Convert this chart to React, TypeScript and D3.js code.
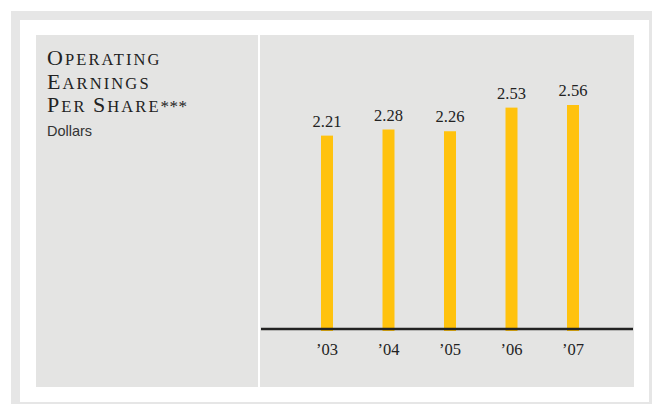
import * as d3 from "d3";

const years = ["’03", "’04", "’05", "’06", "’07"];
const values = [2.21, 2.28, 2.26, 2.53, 2.56];
const titleLines = ["Operating", "Earnings", "Per Share***"];
const unitLabel = "Dollars";

const W = 652;
const H = 404;
const serif = "'Liberation Serif', 'DejaVu Serif', serif";
const sans = "'Liberation Sans', Arial, sans-serif";

function SmallCaps({text, x, y}: {text: string, x: number, y: number}) {
    // first letter of each word large, the rest as reduced capitals
    const parts = text.split("").map((ch, i) => ({
        t: ch.toUpperCase(),
        big: i === 0 || text[i - 1] === " ",
        star: ch === "*",
    }));
    return (
        <text x={x} y={y} fontFamily={serif} fill="#222" letterSpacing={2.1}>
            {parts.map((p, i) => (
                <tspan key={i} fontSize={p.star ? 17 : p.big ? 22 : 16.5} letterSpacing={p.star ? 0.5 : 2.1}>{p.t}</tspan>
            ))}
        </text>
    );
}

export default function App() {
    const x = d3.scalePoint<string>().domain(years).range([327, 573]);
    const y = d3.scaleLinear().domain([0, 3]).range([329, 66.5]);
    const barW = 12;

    return (
        <svg width={W} height={H} style={{position: "absolute", left: 0, top: 0}}>
            <rect x={11} y={11} width={641} height={393} fill="#e6e6e6"/>
            <rect x={20} y={20} width={629} height={382} fill="#ffffff"/>
            <rect x={36} y={35} width={222} height={352} fill="#e4e4e3"/>
            <rect x={260} y={35} width={374} height={352} fill="#e4e4e3"/>

            {titleLines.map((l, i) => (
                <SmallCaps key={l} text={l} x={47} y={65 + i * 23.5}/>
            ))}
            <text x={47} y={136} fontFamily={sans} fontSize={14.5} fill="#333">{unitLabel}</text>

            {values.map((v, i) => (
                <g key={years[i]}>
                    <rect x={x(years[i])! - barW / 2} y={y(v)} width={barW} height={y(0) + 2 - y(v)} fill="#ffc20e"/>
                    <text x={x(years[i])!} y={y(v) - 9} textAnchor="middle" fontFamily={serif} fontSize={16.5} fill="#222">
                        {d3.format(".2f")(v)}
                    </text>
                    <text x={x(years[i])!} y={355} textAnchor="middle" fontFamily={serif} fontSize={16.5} fill="#222">
                        {years[i]}
                    </text>
                </g>
            ))}
            <line x1={261} x2={633} y1={y(0)} y2={y(0)} stroke="#222" strokeWidth={2.5}/>
        </svg>
    );
}
